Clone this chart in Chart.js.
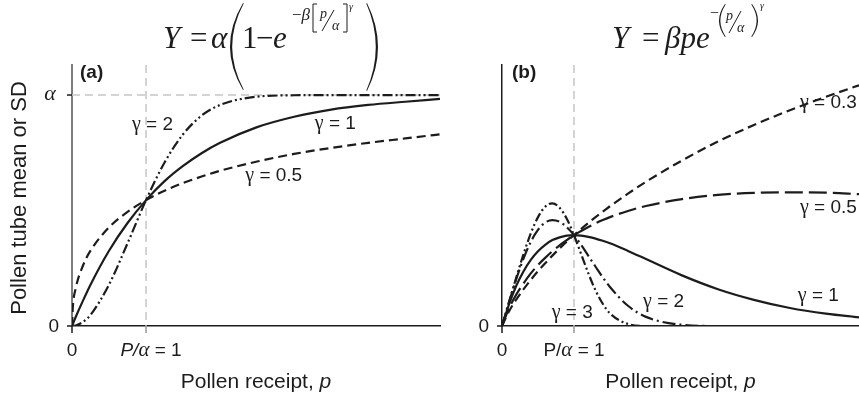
<!DOCTYPE html>
<html>
<head>
<meta charset="utf-8">
<script src="https://cdn.jsdelivr.net/npm/chart.js@4/dist/chart.umd.min.js"></script>
<style>
  body { margin: 0; background: #fff; }
  #wrap { position: relative; width: 859px; height: 399px; }
  #wrap canvas { position: absolute; left: 0; top: 0; }
</style>
</head>
<body>
<div id="wrap">
  <canvas id="panelA" width="859" height="399"></canvas>
  <canvas id="panelB" width="859" height="399"></canvas>
</div>
<script>
// (a) Y = alpha(1 - e^-beta[p/alpha]^gamma), alpha scaled to 1
const pA    = [0, 0.01, 0.05, 0.15, 0.25, 0.5, 0.75, 1, 1.25, 1.5, 1.75, 2, 2.5, 3, 3.5, 4, 4.5, 4.97];
const aG05  = [0, 0.076, 0.162, 0.263, 0.326, 0.427, 0.494, 0.545, 0.586, 0.619, 0.647, 0.672, 0.712, 0.745, 0.771, 0.793, 0.812, 0.830];
const aG1   = [0, 0.008, 0.039, 0.111, 0.179, 0.326, 0.446, 0.545, 0.627, 0.693, 0.748, 0.793, 0.861, 0.906, 0.937, 0.957, 0.971, 0.983];
const aG2   = [0, 0, 0.002, 0.018, 0.048, 0.179, 0.358, 0.545, 0.708, 0.830, 0.911, 0.957, 0.993, 0.999, 1, 1, 1, 1];

// (b) Y = beta p e^-(p/alpha)^gamma, beta = 1
const pB    = [0, 0.1, 0.2, 0.3, 0.4, 0.5, 0.6, 0.7, 0.8, 0.9, 1, 1.1, 1.2, 1.3, 1.4, 1.5, 1.75, 2, 2.5, 3, 3.5, 4, 4.5, 4.96];
const bG03  = [0, 0.061, 0.108, 0.149, 0.187, 0.222, 0.254, 0.285, 0.314, 0.342, 0.368, 0.393, 0.418, 0.441, 0.463, 0.485, 0.536, 0.584, 0.670, 0.747, 0.814, 0.874, 0.928, 0.975];
const bG05  = [0, 0.073, 0.128, 0.173, 0.213, 0.247, 0.276, 0.303, 0.327, 0.348, 0.368, 0.385, 0.401, 0.416, 0.429, 0.441, 0.466, 0.486, 0.514, 0.531, 0.539, 0.541, 0.540, 0.534];
const bG1   = [0, 0.090, 0.164, 0.222, 0.268, 0.303, 0.329, 0.348, 0.359, 0.366, 0.368, 0.366, 0.361, 0.354, 0.345, 0.335, 0.304, 0.271, 0.205, 0.149, 0.106, 0.073, 0.050, 0.035];
const bG2   = [0, 0.099, 0.192, 0.274, 0.341, 0.389, 0.419, 0.429, 0.422, 0.400, 0.368, 0.328, 0.284, 0.240, 0.197, 0.158, 0.082, 0.037, 0.005, 0, 0, 0, 0, 0];
const bG3   = [0, 0.100, 0.198, 0.292, 0.375, 0.441, 0.483, 0.497, 0.479, 0.434, 0.368, 0.291, 0.213, 0.144, 0.090, 0.051, 0.008, 0, 0, 0, 0, 0, 0, 0];

// tick labels
const xTicks = [0, 1];
const xTickText = ['0', 'P/', 'α', ' = 1'];
const yTickTextA = ['0', 'α'];
const yTickTextB = ['0'];

const ink = '#1c1c1c';
const refGray = '#c6c6c6';
const SANS = '"Liberation Sans", Arial, sans-serif';
const SERIF = '"Liberation Serif", "Times New Roman", serif';

function pts(xs, ys) { return xs.map((x, i) => ({ x: x, y: ys[i] })); }

function curve(label, xs, ys, dash) {
  return {
    label: label, data: pts(xs, ys),
    borderColor: ink, borderWidth: 2.2, borderDash: dash,
    pointRadius: 0, fill: false, cubicInterpolationMode: 'monotone'
  };
}

function axis(min, max, color, width) {
  return {
    type: 'linear', min: min, max: max,
    ticks: { display: false },
    grid: { display: false },
    border: { display: true, color: color, width: width },
    afterFit(s) { if (s.isHorizontal()) s.height = 0; else s.width = 0; }
  };
}

function seg(ctx, x0, y0, x1, y1) {
  ctx.beginPath(); ctx.moveTo(x0, y0); ctx.lineTo(x1, y1); ctx.stroke();
}

// draw pieces [text, font] left to right, returns end x
function run(ctx, pieces, x, y) {
  ctx.textAlign = 'left'; ctx.textBaseline = 'alphabetic';
  pieces.forEach(p => { ctx.font = p[1]; ctx.fillText(p[0], x, y); x += ctx.measureText(p[0]).width; });
  return x;
}
function runWidth(ctx, pieces) {
  let w = 0;
  pieces.forEach(p => { ctx.font = p[1]; w += ctx.measureText(p[0]).width; });
  return w;
}

// tall thin parenthesis, crescent shaped; dir = 1 for "(", -1 for ")"
function paren(ctx, xOut, xEnd, y0, y1, dir, t) {
  const ym = (y0 + y1) / 2;
  const cO = 2 * xOut - xEnd;
  const e = xEnd + dir * 0.7;
  const cI = 2 * (xOut + dir * t) - e;
  ctx.beginPath();
  ctx.moveTo(xEnd, y0);
  ctx.quadraticCurveTo(cO, ym, xEnd, y1);
  ctx.lineTo(e, y1 - 0.5);
  ctx.quadraticCurveTo(cI, ym, e, y0 + 0.5);
  ctx.closePath();
  ctx.fill();
}

// square bracket; dir = 1 for "[", -1 for "]"
function bracket(ctx, x, y0, y1, dir) {
  ctx.lineWidth = 1;
  ctx.beginPath();
  ctx.moveTo(x + dir * 4, y0); ctx.lineTo(x, y0); ctx.lineTo(x, y1); ctx.lineTo(x + dir * 4, y1);
  ctx.stroke();
}

function gammaLabel(chart, s, xv, yv) {
  const ctx = chart.ctx;
  const px = chart.scales.x.getPixelForValue(xv), py = chart.scales.y.getPixelForValue(yv) + 6;
  run(ctx, [['γ', '20px ' + SERIF], [s, '19px ' + SANS]], px, py);
}

// ticks, tick labels and x title shared by both panels
function drawAxesText(chart, italicP, yTickText) {
  const { ctx, chartArea: ca, scales: { x, y } } = chart;
  ctx.strokeStyle = ink; ctx.lineWidth = 1.5;
  seg(ctx, ca.left - 5, y.getPixelForValue(0), ca.left, y.getPixelForValue(0));
  seg(ctx, x.getPixelForValue(0), ca.bottom, x.getPixelForValue(0), ca.bottom + 7);
  ctx.strokeStyle = '#9a9a9a';
  seg(ctx, x.getPixelForValue(xTicks[1]), ca.bottom, x.getPixelForValue(xTicks[1]), ca.bottom + 7);

  ctx.fillStyle = ink;
  ctx.font = '19px ' + SANS; ctx.textAlign = 'right'; ctx.textBaseline = 'middle';
  ctx.fillText(yTickText[0], ca.left - 13, y.getPixelForValue(0) + 1);

  ctx.textAlign = 'center'; ctx.textBaseline = 'alphabetic';
  ctx.fillText(xTickText[0], x.getPixelForValue(xTicks[0]), 356);
  const lab = [[xTickText[1], (italicP ? 'italic ' : '') + '19px ' + SANS],
               [xTickText[2], 'italic 21px ' + SERIF],
               [xTickText[3], '19px ' + SANS]];
  const w = runWidth(ctx, lab);
  run(ctx, lab, x.getPixelForValue(xTicks[1]) + (italicP ? 5 : 0) - w / 2, 356);

  const ttl = [['Pollen receipt, ', '21px ' + SANS], ['p', 'italic 21px ' + SANS]];
  const tw = runWidth(ctx, ttl);
  run(ctx, ttl, (ca.left + ca.right) / 2 - tw / 2, 388);
}

const panelAPlugin = {
  id: 'panelAText',
  beforeDatasetsDraw(chart) {
    const { ctx, chartArea: ca, scales: { x, y } } = chart;
    ctx.save();
    ctx.strokeStyle = refGray; ctx.lineWidth = 1.5; ctx.setLineDash([8, 5]);
    seg(ctx, ca.left, y.getPixelForValue(1), ca.right, y.getPixelForValue(1));
    seg(ctx, x.getPixelForValue(1), ca.top, x.getPixelForValue(1), ca.bottom);
    ctx.restore();
  },
  afterDraw(chart) {
    const { ctx, chartArea: ca, scales: { y } } = chart;
    ctx.save();
    drawAxesText(chart, true, yTickTextA);
    ctx.strokeStyle = ink; ctx.lineWidth = 1.5;
    seg(ctx, ca.left - 5, y.getPixelForValue(1), ca.left, y.getPixelForValue(1));
    ctx.font = 'italic 22px ' + SERIF; ctx.textAlign = 'center'; ctx.textBaseline = 'middle';
    ctx.fillText(yTickTextA[1], ca.left - 22, y.getPixelForValue(1) - 1);

    // y title
    ctx.save();
    ctx.translate(20, 198); ctx.rotate(-Math.PI / 2);
    ctx.font = '22px ' + SANS; ctx.textAlign = 'center'; ctx.textBaseline = 'middle';
    ctx.fillText('Pollen tube mean or SD', 0, 0);
    ctx.restore();

    ctx.font = 'bold 19px ' + SANS; ctx.textAlign = 'left'; ctx.textBaseline = 'middle';
    ctx.fillText('(a)', 80, 73);

    // formula
    ctx.strokeStyle = ink;
    run(ctx, [['Y', 'italic 31px ' + SERIF]], 163, 48);
    run(ctx, [['=', '31px ' + SERIF]], 190, 48);
    run(ctx, [['α', 'italic 31px ' + SERIF]], 211, 48);
    paren(ctx, 230, 243, 3, 90, 1, 2.2);
    run(ctx, [['1', '31px ' + SERIF]], 242, 48);
    run(ctx, [['−', '31px ' + SERIF]], 256, 48);
    run(ctx, [['e', 'italic 31px ' + SERIF]], 273, 48);
    run(ctx, [['−', '17px ' + SERIF], ['β', 'italic 17px ' + SERIF]], 292, 20);
    bracket(ctx, 313, 4, 32, 1);
    run(ctx, [['p', 'italic 14px ' + SERIF]], 320, 18);
    ctx.lineWidth = 1; seg(ctx, 322, 31, 334, 10);
    run(ctx, [['α', 'italic 14px ' + SERIF]], 332, 30);
    bracket(ctx, 347, 4, 32, -1);
    run(ctx, [['γ', 'italic 10px ' + SERIF]], 349, 10);
    paren(ctx, 378, 367, 3, 91, -1, 2.2);

    gammaLabel(chart, ' = 2', 0.81, 0.874);
    gammaLabel(chart, ' = 1', 3.28, 0.879);
    gammaLabel(chart, ' = 0.5', 2.34, 0.653);
    ctx.restore();
  }
};

const panelBPlugin = {
  id: 'panelBText',
  beforeDatasetsDraw(chart) {
    const { ctx, chartArea: ca, scales: { x } } = chart;
    ctx.save();
    ctx.strokeStyle = refGray; ctx.lineWidth = 1.5; ctx.setLineDash([8, 5]);
    seg(ctx, x.getPixelForValue(1), ca.top, x.getPixelForValue(1), ca.bottom);
    ctx.restore();
  },
  afterDraw(chart) {
    const { ctx } = chart;
    ctx.save();
    drawAxesText(chart, false, yTickTextB);

    ctx.font = 'bold 19px ' + SANS; ctx.textAlign = 'left'; ctx.textBaseline = 'middle';
    ctx.fillText('(b)', 512, 73);

    ctx.strokeStyle = ink;
    run(ctx, [['Y', 'italic 31px ' + SERIF]], 612, 48);
    run(ctx, [['=', '31px ' + SERIF]], 642, 48);
    run(ctx, [['βpe', 'italic 31px ' + SERIF]], 665, 48);
    run(ctx, [['−', '16px ' + SERIF]], 710, 18);
    paren(ctx, 719, 725, 4, 37, 1, 1.4);
    run(ctx, [['p', 'italic 14px ' + SERIF]], 726, 20);
    ctx.lineWidth = 1; seg(ctx, 729, 33, 741, 11);
    run(ctx, [['α', 'italic 14px ' + SERIF]], 737, 32);
    paren(ctx, 758, 752, 4, 37, -1, 1.4);
    run(ctx, [['γ', 'italic 10px ' + SERIF]], 760, 9);

    gammaLabel(chart, ' = 0.3', 4.14, 0.907);
    gammaLabel(chart, ' = 0.5', 4.14, 0.482);
    gammaLabel(chart, ' = 1', 4.11, 0.126);
    gammaLabel(chart, ' = 2', 1.96, 0.101);
    gammaLabel(chart, ' = 3', 0.69, 0.057);
    ctx.restore();
  }
};

const common = {
  responsive: false, animation: false, devicePixelRatio: 1,
  plugins: { legend: { display: false }, tooltip: { enabled: false } }
};

new Chart(document.getElementById('panelA'), {
  type: 'line',
  data: {
    datasets: [
      curve('γ = 2', pA, aG2, [10, 3, 2, 3, 2, 3]),
      curve('γ = 1', pA, aG1, []),
      curve('γ = 0.5', pA, aG05, [9, 5])
    ]
  },
  options: Object.assign({}, common, {
    layout: { padding: { left: 72, right: 419, top: 65, bottom: 73 } },
    scales: { x: axis(0, 4.97, ink, 1.5), y: axis(0, 1.13, '#7c7c7c', 2) }
  }),
  plugins: [panelAPlugin]
});

new Chart(document.getElementById('panelB'), {
  type: 'line',
  data: {
    datasets: [
      curve('γ = 0.3', pB, bG03, [9, 5]),
      curve('γ = 0.5', pB, bG05, [18, 6]),
      curve('γ = 1', pB, bG1, []),
      curve('γ = 2', pB, bG2, [13, 4, 2, 4]),
      curve('γ = 3', pB, bG3, [9, 3, 2, 3, 2, 3])
    ]
  },
  options: Object.assign({}, common, {
    layout: { padding: { left: 502, right: 0, top: 65, bottom: 73 } },
    scales: { x: axis(0, 4.96, ink, 1.5), y: axis(0, 1.057, ink, 1.5) }
  }),
  plugins: [panelBPlugin]
});
</script>
</body>
</html>
